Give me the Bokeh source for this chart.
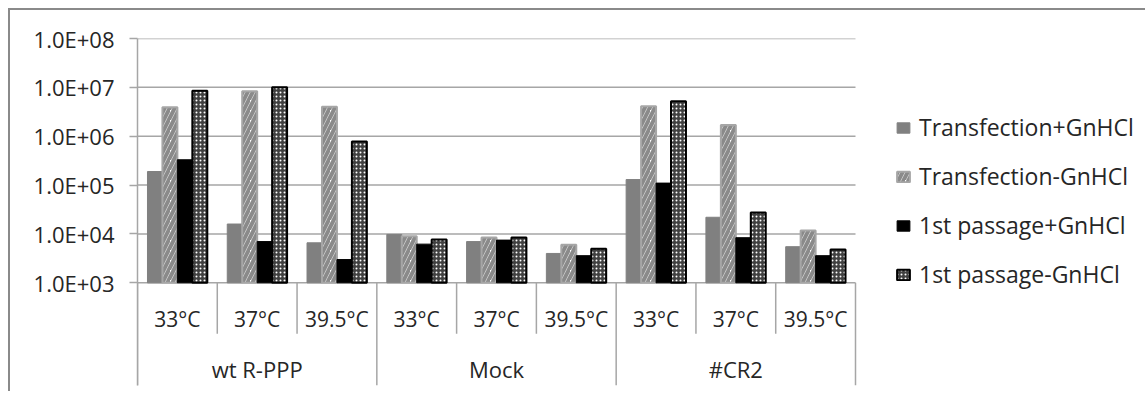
from bokeh.plotting import figure
from bokeh.models import Range1d, FixedTicker, CustomJSTickFormatter, Legend, LegendItem, ColumnDataSource
from bokeh.core.properties import value
from bokeh.embed import file_html
from bokeh.resources import INLINE

# ---- data ----
groups = ["wt R-PPP", "Mock", "#CR2"]
temps = ["33°C", "37°C", "39.5°C"]
series = ["Transfection+GnHCl", "Transfection-GnHCl", "1st passage+GnHCl", "1st passage-GnHCl"]
transfection_plus = [1.9e5, 1.6e4, 6.6e3, 9.8e3, 7.0e3, 4.0e3, 1.3e5, 2.2e4, 5.5e3]
transfection_minus = [3.9e6, 8.3e6, 4.0e6, 9.0e3, 8.5e3, 6.0e3, 4.1e6, 1.7e6, 1.18e4]
passage_plus = [3.3e5, 7.0e3, 3.0e3, 6.2e3, 7.5e3, 3.6e3, 1.1e5, 8.4e3, 3.6e3]
passage_minus = [8.5e6, 1.0e7, 7.8e5, 7.7e3, 8.5e3, 5.0e3, 5.2e6, 2.75e4, 4.8e3]
y_ticks = [1e3, 1e4, 1e5, 1e6, 1e7, 1e8]

FONT = "Open Sans"
TXT = "#262626"
GRID = "#a6a6a6"

n_cat = len(groups) * len(temps)
base = y_ticks[0]

W, H = 1137, 383
LEFT, TOP = 127, 28
PLOT_W = 718                      # width of the category area in px
FRAME_W = W - LEFT                # frame runs to the right edge (legend lives inside)
x_end = n_cat * FRAME_W / PLOT_W

p = figure(width=W, height=H, output_backend="svg", toolbar_location=None,
           x_range=Range1d(0, x_end), y_range=Range1d(10 ** (3 - 2.1), y_ticks[-1]),
           y_axis_type="log",
           min_border_left=LEFT, min_border_right=0, min_border_top=TOP,
           min_border_bottom=H - TOP - 347,
           styles={"margin-left": "8px", "margin-top": "8px",
                   "border-top": "2px solid #8a8a8a", "border-left": "2px solid #8a8a8a"})
p.outline_line_color = None
p.xaxis.visible = False
p.xgrid.visible = False
p.ygrid.visible = False

# horizontal gridlines over the category area only
p.segment(x0=[0] * len(y_ticks), x1=[n_cat] * len(y_ticks), y0=y_ticks, y1=y_ticks,
          line_color=GRID, line_width=1.5)

ya = p.yaxis[0]
ya.ticker = FixedTicker(ticks=y_ticks, minor_ticks=[])
ya.formatter = CustomJSTickFormatter(code="""
const e = Math.round(Math.log10(tick));
return '1.0E+' + (e < 10 ? '0' : '') + e;
""")
ya.axis_line_color = GRID
ya.axis_line_width = 1.5
ya.major_tick_line_color = GRID
ya.major_tick_line_width = 1.5
ya.major_tick_out = 8
ya.major_tick_in = 0
ya.minor_tick_line_color = None
ya.major_label_text_font = FONT
ya.major_label_text_font_size = "22px"
ya.major_label_text_color = TXT
ya.major_label_standoff = 15

# ---- bars ----
bw = 0.1875
values = [transfection_plus, transfection_minus, passage_plus, passage_minus]
styles = [
    dict(fill_color="#808080", line_color="#808080", line_width=1),
    dict(fill_color="white", line_color="#a6a6a6", line_width=2,
         hatch_pattern="right_diagonal_line", hatch_color="#8a8a8a", hatch_scale=10, hatch_weight=4),
    dict(fill_color="black", line_color="black", line_width=1),
    dict(fill_color="#404040", line_color="black", line_width=2,
         hatch_pattern="dot", hatch_color="white", hatch_scale=4, hatch_weight=1.2),
]
renderers = []
for k, (vals, st) in enumerate(zip(values, styles)):
    xs = [i + 0.5 + (k - 1.5) * bw for i in range(n_cat)]
    src = ColumnDataSource(dict(x=xs, top=vals))
    r = p.vbar(x="x", top="top", bottom=base, width=bw, source=src, **st)
    renderers.append(r)

# ---- category table below axis ----
row1_bottom = 10 ** (3 - 1.04)
y_temp = 10 ** (3 - 0.73)
y_group = 10 ** (3 - 1.755)
y_floor = 10 ** (3 - 2.1)
sub_x, grp_x = [], []
for i in range(n_cat + 1):
    if i % len(temps) == 0:
        grp_x.append(i)
    else:
        sub_x.append(i)
p.segment(x0=sub_x, x1=sub_x, y0=[base] * len(sub_x), y1=[row1_bottom] * len(sub_x),
          line_color=GRID, line_width=1.5)
p.segment(x0=grp_x, x1=grp_x, y0=[base] * len(grp_x), y1=[y_floor] * len(grp_x),
          line_color=GRID, line_width=1.5)

temp_labels = [t for g in groups for t in temps]
p.text(x=[i + 0.5 for i in range(n_cat)], y=[y_temp] * n_cat, text=temp_labels,
       text_font=value(FONT), text_font_size="21px", text_color=TXT,
       text_align="center", text_baseline="middle")
p.text(x=[g * len(temps) + len(temps) / 2 for g in range(len(groups))], y=[y_group] * len(groups),
       text=groups, text_font=value(FONT), text_font_size="22px", text_color=TXT,
       text_align="center", text_baseline="middle")

legend = Legend(items=[LegendItem(label=s, renderers=[r]) for s, r in zip(series, renderers)],
                location=(758, 95), orientation="vertical",
                glyph_width=16, glyph_height=13, label_standoff=8, spacing=17,
                padding=0, margin=0, border_line_alpha=0, background_fill_alpha=0,
                label_text_font=FONT, label_text_font_size="23px", label_text_color=TXT)
p.add_layout(legend)

open("out.html", "w").write(file_html(p, INLINE))
